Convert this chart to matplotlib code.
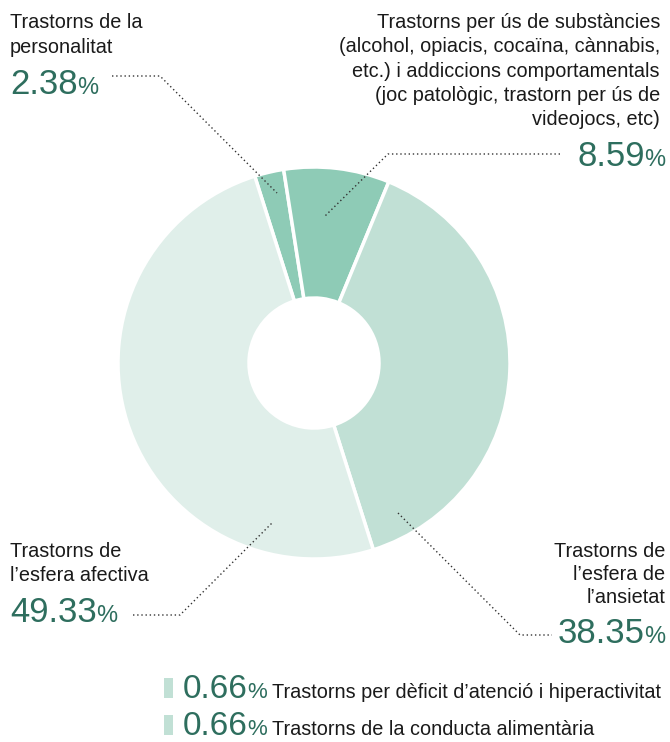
import matplotlib.pyplot as plt
from matplotlib.patches import Rectangle

plt.rcParams['font.family'] = ['Liberation Sans', 'DejaVu Sans']

W, H = 670, 742

# main slices, clockwise from the top
labels = [
    ["Trastorns de la", "personalitat"],
    ["Trastorns per ús de substàncies", "(alcohol, opiacis, cocaïna, cànnabis,",
     "etc.) i addiccions comportamentals", "(joc patològic, trastorn per ús de",
     "videojocs, etc)"],
    ["Trastorns de", "l’esfera de", "l’ansietat"],
    ["Trastorns de", "l’esfera afectiva"],
]
values = [2.38, 8.59, 38.35, 49.33]
colors = ['#8ecbb6', '#8ecbb6', '#c1e0d5', '#e0efea']

# tiny ones, only listed below the chart
small_labels = ["Trastorns per dèficit d’atenció i hiperactivitat",
                "Trastorns de la conducta alimentària"]
small_values = [0.66, 0.66]

green = '#2e6e5e'
dark = '#1a1a1a'

fig = plt.figure(figsize=(W / 100, H / 100), dpi=100)
ax = fig.add_axes([0, 0, 1, 1])

ax.pie(values, colors=colors, startangle=107.6, counterclock=False,
       center=(314, H - 363), radius=196,
       wedgeprops=dict(width=131, edgecolor='white', linewidth=2.5))
ax.set_xlim(0, W)
ax.set_ylim(0, H)
ax.set_aspect('equal')
ax.axis('off')

renderer = fig.canvas.get_renderer()


def lines(x, y0, rows, ha='left', step=24.5, size=14.3):
    for i, r in enumerate(rows):
        ax.text(x, H - (y0 + i * step), r, ha=ha, va='baseline',
                fontsize=size, color=dark)


def pct(x, y, v, ha='left', size=25, psize=17):
    num = f"{v:.2f}"
    if ha == 'left':
        t = ax.text(x, H - y, num, fontsize=size, color=green, va='baseline')
        bb = t.get_window_extent(renderer)
        p = ax.text(bb.x1 - 1, H - y, '%', fontsize=psize, color=green, va='baseline')
        return p.get_window_extent(renderer).x1
    p = ax.text(x, H - y, '%', fontsize=psize, color=green, va='baseline', ha='right')
    bb = p.get_window_extent(renderer)
    ax.text(bb.x0 + 1, H - y, num, fontsize=size, color=green, va='baseline', ha='right')
    return x


def leader(pts):
    xs = [p[0] for p in pts]
    ys = [H - p[1] for p in pts]
    ax.plot(xs, ys, color='#333333', lw=1, ls=(0, (1, 2)))


# personalitat
lines(10, 28, labels[0], step=25)
pct(10, 94, values[0])
leader([(112, 76), (160, 76), (277, 193)])

# substancies
lines(660, 28, labels[1], ha='right', step=24.3)
pct(665, 166, values[1], ha='right')
leader([(560, 154), (388, 154), (324, 217)])

# ansietat
lines(665, 557, labels[2], ha='right', step=23)
pct(665, 643, values[2], ha='right')
leader([(398, 513), (520, 635), (552, 635)])

# afectiva
lines(10, 557, labels[3], step=24)
pct(10, 622, values[3])
leader([(133, 615), (180, 615), (272, 523)])

# small ones
for i, (lab, v) in enumerate(zip(small_labels, small_values)):
    yb = 698 + i * 37
    ax.add_patch(Rectangle((164, H - yb), 9, 20, color='#c1e0d5', lw=0))
    x1 = pct(183, yb, v, size=24, psize=16)
    ax.text(x1 + 5, H - yb, lab, fontsize=14.3, color=dark, va='baseline')

fig.savefig('out.png', dpi=100)
